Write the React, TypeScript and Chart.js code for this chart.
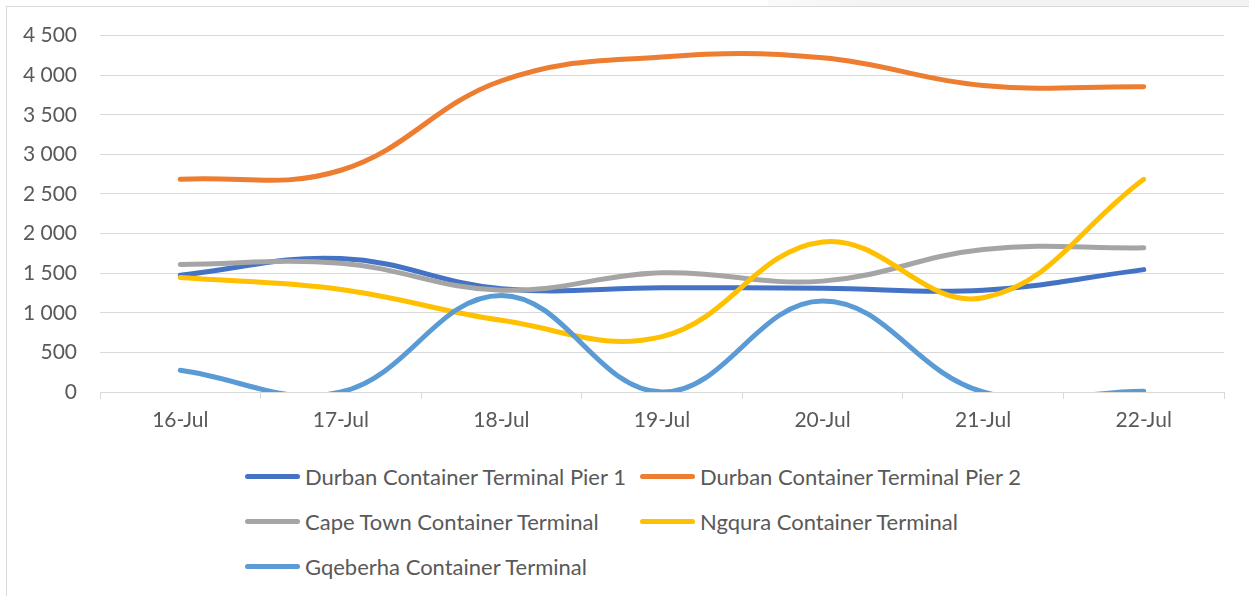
import React, { useEffect, useRef } from 'react';
import { Chart, registerables } from 'chart.js';

Chart.register(...registerables);

const categories = ['16-Jul', '17-Jul', '18-Jul', '19-Jul', '20-Jul', '21-Jul', '22-Jul'];
const seriesNames = [
  'Durban Container Terminal Pier 1',
  'Durban Container Terminal Pier 2',
  'Cape Town Container Terminal',
  'Ngqura Container Terminal',
  'Gqeberha Container Terminal',
];
const pier1 = [1475, 1685, 1305, 1315, 1310, 1285, 1545];
const pier2 = [2685, 2800, 3930, 4230, 4220, 3870, 3855];
const capeTown = [1610, 1625, 1285, 1505, 1400, 1800, 1820];
const ngqura = [1445, 1295, 905, 700, 1895, 1190, 2685];
const gqeberha = [275, 0, 1220, 0, 1150, 0, 10];
const seriesColors = ['#4472C4', '#ED7D31', '#A5A5A5', '#FFC000', '#5B9BD5'];
const yMin = 0;
const yMax = 4500;
const yStep = 500;

const FONT = 'Lato, "Liberation Sans", sans-serif';
const TEXT = '#595959';
const GRID = '#d9d9d9';

function fmt(v: number): string {
  return String(v).replace(/\B(?=(\d{3})+(?!\d))/g, ' ');
}

export default function App() {
  const ref = useRef<HTMLCanvasElement | null>(null);

  useEffect(() => {
    if (!ref.current) return;
    const values = [pier1, pier2, capeTown, ngqura, gqeberha];
    const chart = new Chart(ref.current, {
      type: 'line',
      data: {
        labels: categories,
        datasets: values.map((d, i) => ({
          label: seriesNames[i],
          data: d,
          borderColor: seriesColors[i],
          backgroundColor: seriesColors[i],
          borderWidth: 5,
          borderCapStyle: 'round',
          borderJoinStyle: 'round',
          pointRadius: 0,
          pointHoverRadius: 0,
          tension: 0.4,
          fill: false,
          order: values.length - i,
        })),
      },
      options: {
        responsive: false,
        animation: false,
        devicePixelRatio: 1,
        layout: { padding: { top: 35, right: 25, left: 0, bottom: 0 } },
        elements: { line: { capBezierPoints: false } },
        plugins: {
          legend: { display: false },
          tooltip: { enabled: false },
        },
        scales: {
          x: {
            type: 'category',
            offset: true,
            grid: {
              offset: true,
              drawOnChartArea: false,
              drawTicks: true,
              tickLength: 7,
              color: GRID,
              lineWidth: 1,
            },
            border: { display: true, color: GRID, width: 1 },
            ticks: {
              color: TEXT,
              font: { family: FONT, size: 21 },
              padding: 9,
              maxRotation: 0,
              autoSkip: false,
            },
            afterFit: (s: any) => {
              s.height = 53;
            },
          },
          y: {
            min: yMin,
            max: yMax,
            grid: { color: GRID, lineWidth: 1, drawTicks: false },
            border: { display: false },
            ticks: {
              stepSize: yStep,
              color: TEXT,
              font: { family: FONT, size: 21 },
              padding: 23,
              callback: (v: any) => fmt(Number(v)),
            },
            afterFit: (s: any) => {
              s.width = 100;
            },
          },
        },
      },
    } as any);
    return () => chart.destroy();
  }, []);

  return (
    <div
      style={{
        position: 'absolute',
        left: 0,
        top: 0,
        width: 1249,
        height: 596,
        overflow: 'hidden',
        background: '#ffffff',
      }}
    >
      <div
        style={{
          position: 'absolute',
          left: 768,
          top: 0,
          width: 481,
          height: 6,
          background: 'linear-gradient(to right, #fafafa, #f2f3f2 120px)',
        }}
      />
      <div
        style={{
          position: 'absolute',
          left: 6,
          top: 6,
          width: 1400,
          height: 800,
          border: `1px solid ${GRID}`,
          boxSizing: 'border-box',
        }}
      />
      <canvas
        ref={ref}
        width={1249}
        height={445}
        style={{ position: 'absolute', left: 0, top: 0, width: 1249, height: 445 }}
      />
      <div
        style={{
          position: 'absolute',
          left: 245,
          top: 454,
          display: 'grid',
          gridTemplateColumns: '395px 395px',
          gridAutoRows: '45px',
          fontFamily: FONT,
          fontSize: 22,
          color: TEXT,
        }}
      >
        {seriesNames.map((name, i) => (
          <div key={name} style={{ display: 'flex', alignItems: 'center', whiteSpace: 'nowrap' }}>
            <span
              style={{
                display: 'inline-block',
                width: 55,
                height: 5,
                borderRadius: 3,
                background: seriesColors[i],
                marginRight: 5,
                flexShrink: 0,
              }}
            />
            <span>{name}</span>
          </div>
        ))}
      </div>
    </div>
  );
}
